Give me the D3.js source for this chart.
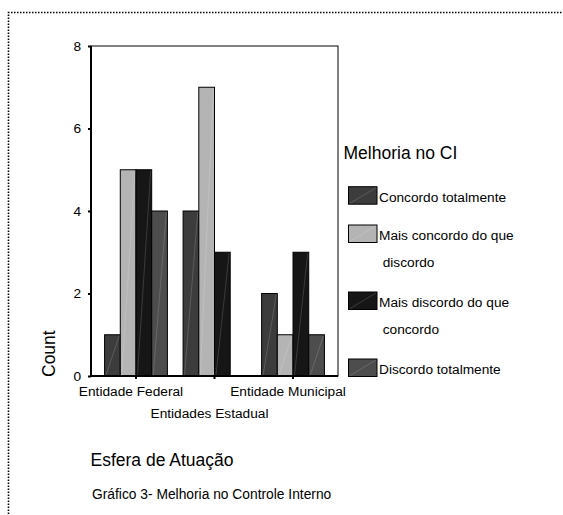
<!DOCTYPE html>
<html>
<head>
<meta charset="utf-8">
<script src="https://cdn.jsdelivr.net/npm/d3@7"></script>
<style>
  html, body { margin: 0; padding: 0; background: #fff; }
  svg text { font-family: "Liberation Sans", Arial, sans-serif; fill: #000; }
</style>
</head>
<body>
<svg id="chart" width="563" height="515"></svg>
<script>
// Esfera de atuação (categories on the x axis)
const categories = ["Entidade Federal", "Entidades Estadual", "Entidade Municipal"];
// Response levels (series)
const seriesNames = ["Concordo totalmente", "Mais concordo do que discordo", "Mais discordo do que concordo", "Discordo totalmente"];
const legendLines = [["Concordo totalmente"], ["Mais concordo do que", "discordo"], ["Mais discordo do que", "concordo"], ["Discordo totalmente"]];
// Counts per series, in category order
const concordoTotalmente = [1, 4, 2];
const maisConcordo = [5, 7, 1];
const maisDiscordo = [5, 3, 3];
const discordoTotalmente = [4, 0, 1];
const seriesValues = [concordoTotalmente, maisConcordo, maisDiscordo, discordoTotalmente];
const seriesColors = ["#3c3c3c", "#b4b4b4", "#161616", "#4d4d4d"];
const yTicks = [0, 2, 4, 6, 8];

const svg = d3.select("#chart");

// dotted frame around the figure
svg.append("path")
  .attr("d", "M8.5,520 L8.5,12.5 L570,12.5")
  .attr("fill", "none")
  .attr("stroke", "#000")
  .attr("stroke-width", 1.6)
  .attr("stroke-dasharray", "1.5,1.5");

const plot = { left: 91, right: 338, top: 46, bottom: 376 };

const x0 = d3.scaleBand().domain(categories)
  .range([plot.left, plot.right]).paddingInner(0.2).paddingOuter(0.173);
const x1 = d3.scaleBand().domain(seriesNames).range([0, x0.bandwidth()]);
const y = d3.scaleLinear().domain([0, 8]).range([plot.bottom, plot.top]);

// bars
const data = [];
categories.forEach((c, ci) => {
  seriesNames.forEach((s, si) => data.push({ c, s, si, v: seriesValues[si][ci] }));
});

const bars = svg.append("g");
bars.selectAll("rect").data(data).join("rect")
  .attr("x", d => x0(d.c) + x1(d.s))
  .attr("y", d => y(d.v))
  .attr("width", x1.bandwidth())
  .attr("height", d => y(0) - y(d.v))
  .attr("fill", d => seriesColors[d.si])
  .attr("stroke", "#000")
  .attr("stroke-width", 1);

// faint diagonal sheen inside each bar
bars.selectAll("line").data(data.filter(d => d.v > 0)).join("line")
  .attr("x1", d => x0(d.c) + x1(d.s) + 1.5)
  .attr("y1", y(0) - 1)
  .attr("x2", d => x0(d.c) + x1(d.s) + x1.bandwidth() - 1)
  .attr("y2", d => y(d.v) + 1)
  .attr("stroke", "rgba(255,255,255,0.2)")
  .attr("stroke-width", 0.8);

// plot frame
svg.append("rect")
  .attr("x", plot.left).attr("y", plot.top)
  .attr("width", plot.right - plot.left).attr("height", plot.bottom - plot.top)
  .attr("fill", "none").attr("stroke", "#000").attr("stroke-width", 1);
svg.append("line").attr("x1", plot.left).attr("x2", plot.left)
  .attr("y1", plot.top).attr("y2", plot.bottom)
  .attr("stroke", "#000").attr("stroke-width", 2);
svg.append("line").attr("x1", plot.left).attr("x2", plot.right)
  .attr("y1", plot.bottom).attr("y2", plot.bottom)
  .attr("stroke", "#000").attr("stroke-width", 2);

// y axis
const yAxis = svg.append("g")
  .attr("transform", `translate(${plot.left},0)`)
  .call(d3.axisLeft(y).tickValues(yTicks).tickSize(3).tickPadding(7).tickFormat(d3.format("d")));
yAxis.select(".domain").remove();
yAxis.selectAll(".tick line").attr("stroke", "#000").attr("stroke-width", 2);
yAxis.selectAll(".tick text").style("font-size", "13.7px")
  .style("font-family", "'Liberation Sans', Arial, sans-serif");

// x axis
const xAxis = svg.append("g")
  .attr("transform", `translate(0,${plot.bottom})`)
  .call(d3.axisBottom(x0).tickSize(3).tickFormat(""));
xAxis.select(".domain").remove();
xAxis.selectAll(".tick line").attr("stroke", "#000").attr("stroke-width", 2);

// staggered category labels
const labelRows = [395.5, 418, 395.5];
svg.append("g").selectAll("text").data(categories).join("text")
  .attr("x", d => x0(d) + x0.bandwidth() / 2 - 5)
  .attr("y", (d, i) => labelRows[i])
  .attr("text-anchor", "middle")
  .style("font-size", "13.7px")
  .text(d => d);

// y axis title
svg.append("text")
  .attr("transform", "translate(55,377) rotate(-90)")
  .attr("text-anchor", "start")
  .style("font-size", "17.5px")
  .text("Count");

// x axis title and caption
svg.append("text").attr("x", 90.5).attr("y", 465.5)
  .style("font-size", "17.5px").text("Esfera de Atuação");
svg.append("text").attr("x", 92).attr("y", 499)
  .style("font-size", "13.8px").text("Gráfico 3- Melhoria no Controle Interno");

// legend
const legend = svg.append("g");
legend.append("text").attr("x", 343.5).attr("y", 158.5)
  .style("font-size", "17.5px").text("Melhoria no CI");

let ly = 186.7;
legendLines.forEach((lines, i) => {
  const g = legend.append("g");
  g.append("rect")
    .attr("x", 348.5).attr("y", ly).attr("width", 28.5).attr("height", 17.5)
    .attr("fill", seriesColors[i]).attr("stroke", "#000").attr("stroke-width", 1);
  g.append("line")
    .attr("x1", 350).attr("y1", ly + 16.5).attr("x2", 376).attr("y2", ly + 1)
    .attr("stroke", "rgba(255,255,255,0.2)").attr("stroke-width", 0.8);
  lines.forEach((t, li) => {
    g.append("text")
      .attr("x", li === 0 ? 379 : 382.7)
      .attr("y", ly + 15 + li * 27)
      .style("font-size", "13.7px")
      .text(t);
  });
  ly += 38.3 + 28.7 * (lines.length - 1);
});
</script>
</body>
</html>
